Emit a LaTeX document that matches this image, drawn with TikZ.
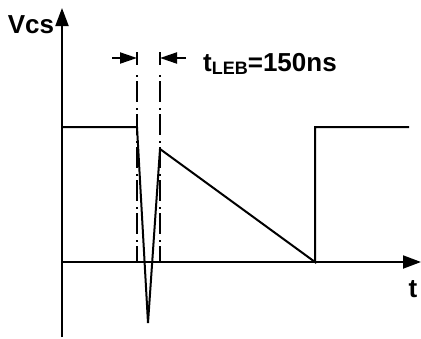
\documentclass[tikz,border=0pt]{standalone}
\usepackage{fontspec}
\setmainfont{Liberation Sans}
\usetikzlibrary{arrows.meta,positioning}
\tikzset{
  axis/.style={line width=2pt,-{Triangle[length=18pt,width=13pt]}},
  wave/.style={line width=2pt,line join=miter},
  guide/.style={line width=1.5pt,dash pattern=on 2pt off 4pt on 21pt off 6pt},
  tick/.style={line width=1.5pt},
  dim/.style={line width=2pt,-{Triangle[length=17pt,width=11pt]}},
  lbl/.style={font=\fontsize{26}{30}\selectfont\bfseries,inner sep=0pt},
}
\begin{document}
\begin{tikzpicture}[x=1pt,y=-1pt]
  \useasboundingbox (0,0) rectangle (421,338);
  % axes
  \coordinate (o) at (62,262);
  \coordinate (ybot) at (62,337);
  \coordinate (ytop) at (62,8);
  \coordinate (xend) at (421,262);
  \draw[axis] (ybot) -- (ytop);
  \draw[axis] (o) -- (xend);
  \node[lbl] (vcs) at (31,25) {Vcs};
  \node[lbl] (t) at (413,289) {t};
  % waveform
  \coordinate (w0) at (62,127);
  \coordinate (w1) at (137,127);
  \coordinate (w2) at (148,323);
  \coordinate (w3) at (160,149);
  \coordinate (w4) at (315,262);
  \coordinate (w5) at (315,127);
  \coordinate (w6) at (409,127);
  \draw[wave] (w0) -- (w1) -- (w2) -- (w3) -- (w4) -- (w5) -- (w6);
  % blanking window
  \coordinate (g1) at (137,75);
  \coordinate (g2) at (160,75);
  \draw[guide] (g1) -- (w1 |- o);
  \draw[guide] (g2) -- (w3 |- o);
  \draw[tick] (137,52) coordinate (k1) -- (137,65);
  \draw[tick] (160,52) coordinate (k2) -- (160,65);
  \coordinate (a1) at (112,58);
  \coordinate (a2) at (186,58);
  \draw[dim] (a1) -- (k1 |- a1);
  \draw[dim] (a2) -- (k2 |- a2);
  \node[lbl,anchor=base west] (leb) at (203,71)
    {t\raisebox{-3pt}{\fontsize{18}{21}\selectfont LEB}=150ns};
\end{tikzpicture}
\end{document}
